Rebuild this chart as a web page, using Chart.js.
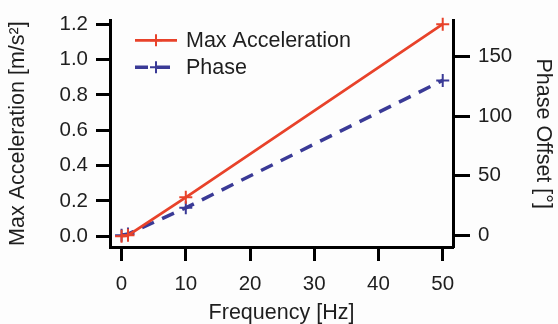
<!DOCTYPE html>
<html>
<head>
<meta charset="utf-8">
<script src="https://cdn.jsdelivr.net/npm/chart.js@4"></script>
<style>
  html, body { margin: 0; padding: 0; background: #fdfdfd; }
  #wrap { width: 558px; height: 324px; }
</style>
</head>
<body>
<div id="wrap"><canvas id="chart"></canvas></div>
<script>
// data
const frequency = [0, 1, 10, 50];
const maxAcceleration = [0, 0.005, 0.22, 1.2];
const phaseOffset = [0, 1, 23, 130];

const xTicks = [0, 10, 20, 30, 40, 50];
const accelTicks = [0, 0.2, 0.4, 0.6, 0.8, 1.0, 1.2];
const phaseTicks = [0, 50, 100, 150];

const RED = 'rgb(232, 66, 42)';
const BLUE = 'rgb(58, 58, 150)';
const FONT = 'Liberation Sans, Arial, sans-serif';
const INK = '#1e1e1e';

// legend drawn inside the plot, top-left
const insideLegend = {
	id: 'insideLegend',
	afterDatasetsDraw(chart) {
		const ctx = chart.ctx;
		const area = chart.chartArea;
		chart.data.datasets.forEach((ds, i) => {
			const y = area.top + 20 + i * 27;
			const x0 = area.left + 25;
			const x1 = area.left + 67;
			ctx.save();
			ctx.strokeStyle = ds.borderColor;
			ctx.lineWidth = ds.borderWidth;
			ctx.setLineDash(ds.borderDash || []);
			ctx.beginPath();
			ctx.moveTo(x0, y);
			ctx.lineTo(x1, y);
			ctx.stroke();
			ctx.setLineDash([]);
			ctx.lineWidth = 2;
			const cx = (x0 + x1) / 2;
			ctx.beginPath();
			ctx.moveTo(cx - 6, y); ctx.lineTo(cx + 6, y);
			ctx.moveTo(cx, y - 6); ctx.lineTo(cx, y + 6);
			ctx.stroke();
			ctx.fillStyle = INK;
			ctx.font = '21.5px ' + FONT;
			ctx.textBaseline = 'middle';
			ctx.textAlign = 'left';
			ctx.fillText(ds.label, area.left + 76, y + 1);
			ctx.restore();
		});
	}
};

const axisBorder = { display: true, color: '#000', width: 3 };
const tickFont = { family: FONT, size: 20.5 };
const titleFont = { family: FONT, size: 21.5, lineHeight: 1.0 };

new Chart(document.getElementById('chart'), {
	type: 'line',
	data: {
		datasets: [{
			label: 'Max Acceleration',
			data: frequency.map((f, i) => ({ x: f, y: maxAcceleration[i] })),
			yAxisID: 'yAccel',
			borderColor: RED,
			backgroundColor: RED,
			borderWidth: 2.8,
			pointStyle: 'cross',
			pointRadius: 6.5,
			pointBorderWidth: 2,
			tension: 0,
			clip: false
		}, {
			label: 'Phase',
			data: frequency.map((f, i) => ({ x: f, y: phaseOffset[i] })),
			yAxisID: 'yPhase',
			borderColor: BLUE,
			backgroundColor: BLUE,
			borderWidth: 3.5,
			borderDash: [13, 9],
			pointStyle: 'cross',
			pointRadius: 6.5,
			pointBorderWidth: 2,
			tension: 0,
			clip: false
		}]
	},
	options: {
		responsive: true,
		maintainAspectRatio: false,
		animation: false,
		layout: { padding: { top: 16, left: 0, right: 0, bottom: 0 } },
		plugins: { legend: { display: false }, tooltip: { enabled: false } },
		scales: {
			x: {
				type: 'linear',
				min: -1.8,
				max: 51.6,
				border: axisBorder,
				grid: { drawOnChartArea: false, drawTicks: true, tickLength: 14, tickWidth: 3, tickColor: '#000' },
				ticks: { font: tickFont, color: INK, padding: 11, maxRotation: 0 },
				afterBuildTicks: s => { s.ticks = xTicks.map(v => ({ value: v })); },
				afterFit: s => { s.height = 77; },
				title: { display: true, text: 'Frequency [Hz]', font: titleFont, color: INK, padding: { top: 0, bottom: 0 } }
			},
			yAccel: {
				type: 'linear',
				position: 'left',
				min: -0.061,
				max: 1.222,
				border: axisBorder,
				grid: { drawOnChartArea: false, drawTicks: true, tickLength: 14, tickWidth: 3, tickColor: '#000' },
				ticks: { font: tickFont, color: INK, padding: 8, callback: v => v.toFixed(1) },
				afterBuildTicks: s => { s.ticks = accelTicks.map(v => ({ value: v })); },
				afterFit: s => { s.width = 110; },
				title: { display: true, text: 'Max Acceleration [m/s²]', font: titleFont, color: INK, padding: { top: 7, bottom: 0 } }
			},
			yPhase: {
				type: 'linear',
				position: 'right',
				min: -9.9,
				max: 180.5,
				border: axisBorder,
				grid: { drawOnChartArea: false, drawTicks: true, tickLength: 17, tickWidth: 3, tickColor: '#000' },
				ticks: { font: tickFont, color: INK, padding: 8 },
				afterBuildTicks: s => { s.ticks = phaseTicks.map(v => ({ value: v })); },
				afterFit: s => { s.width = 105; },
				title: { display: true, text: 'Phase Offset [°]', font: titleFont, color: INK, padding: { top: 4, bottom: 0 } }
			}
		}
	},
	plugins: [insideLegend]
});
</script>
</body>
</html>
